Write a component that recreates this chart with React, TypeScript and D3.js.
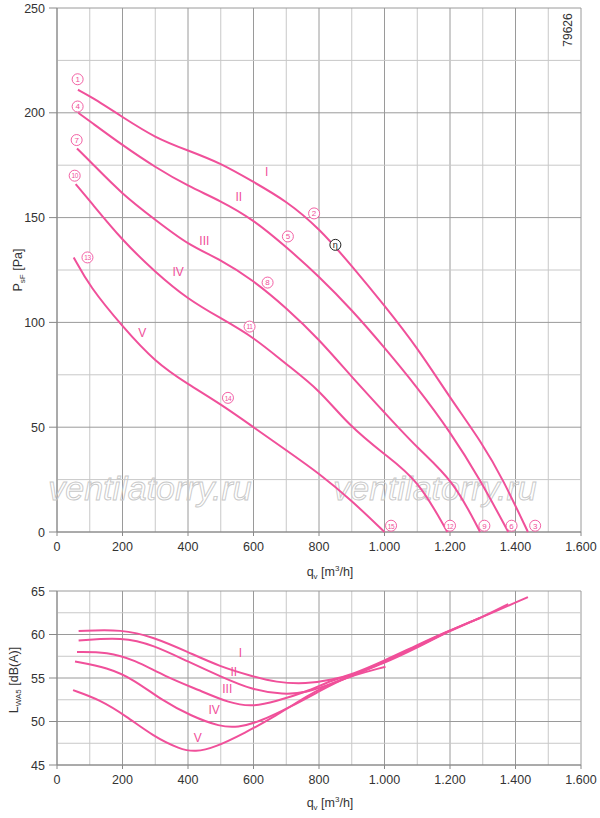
import React from "react";
import * as d3 from "d3";

const PINK = "#f0509a";
const pressureQ: number[][] = [
  [64, 100, 200, 300, 400, 500, 600, 700, 800, 900, 1000, 1100, 1200, 1300, 1362, 1438],
  [65, 100, 200, 300, 400, 500, 600, 700, 800, 900, 1000, 1100, 1200, 1292, 1378],
  [61, 100, 200, 300, 400, 500, 600, 700, 800, 900, 1000, 1100, 1209, 1292],
  [57, 100, 200, 300, 400, 500, 600, 700, 800, 890, 1000, 1102, 1192],
  [51, 100, 200, 300, 400, 500, 600, 700, 800, 900, 1000],
];
const pressureP: number[][] = [
  [211, 208, 198, 188, 182, 176, 167, 158, 145, 127, 108, 88, 64, 42, 25, 0],
  [200, 196, 184.5, 174, 165, 158, 149, 136, 122, 106, 88, 69, 48, 25, 0],
  [183, 177, 161, 149, 137, 130, 120, 107, 92, 74, 57, 40, 25, 0],
  [166, 158, 139, 124, 111, 102, 93, 80, 68, 51, 37, 25, 0],
  [131, 117, 98, 81, 70.5, 61, 50, 39, 28, 15, 0],
];
const soundQ: number[][] = [
  [66, 200, 294, 399, 498, 597, 667, 761, 842, 900, 1000, 1100, 1200, 1300, 1438],
  [66, 200, 294, 399, 498, 597, 691, 761, 842, 900, 1000, 1100, 1200, 1300, 1378],
  [61, 154, 236, 329, 434, 527, 597, 667, 761, 842, 900, 1000, 1100, 1200, 1292],
  [55, 154, 236, 317, 411, 498, 551, 621, 714, 807, 877, 1000, 1100, 1192],
  [49, 131, 212, 294, 376, 422, 481, 574, 667, 761, 854, 1003],
];
const soundL: number[][] = [
  [60.4, 60.6, 59.7, 58.0, 56.3, 55.2, 54.5, 54.3, 54.8, 55.4, 57.0, 58.8, 60.5, 62.0, 64.3],
  [59.3, 59.7, 58.8, 56.9, 55.2, 53.6, 53.1, 53.3, 54.4, 55.2, 56.9, 58.7, 60.5, 62.0, 63.5],
  [58.0, 58.0, 57.1, 55.2, 53.6, 52.1, 51.7, 52.3, 53.4, 54.8, 55.3, 56.8, 58.6, 60.4, 61.9],
  [56.9, 56.2, 54.8, 52.5, 50.6, 49.4, 49.3, 50.0, 51.7, 53.6, 55.0, 56.7, 58.5, 60.3],
  [53.6, 52.5, 50.6, 48.3, 46.8, 46.5, 47.0, 48.7, 50.6, 52.9, 54.8, 56.3],
];
const romans = ["I", "II", "III", "IV", "V"];
const topRomanPos: [number, number][] = [[640, 170], [555, 158], [450, 137], [370, 122], [260, 93]];
const bottomRomanPos: [number, number][] = [[560, 57.4], [540, 55.2], [520, 53.3], [480, 50.9], [430, 47.7]];
const markerNums = [1, 4, 7, 10, 13, 2, 5, 8, 11, 14, 3, 6, 9, 12, 15];
const markerQ = [63, 63, 60, 54, 93, 785, 705, 643, 588, 522, 1460, 1388, 1305, 1200, 1020];
const markerP = [216, 203, 187, 170, 131, 152, 141, 119, 98, 64, 3, 3, 3, 3, 3];
const xTicks = [0, 200, 400, 600, 800, 1000, 1200, 1400, 1600];
const xTickLabels = ["0", "200", "400", "600", "800", "1.000", "1.200", "1.400", "1.600"];
const topYTicks = [0, 50, 100, 150, 200, 250];
const botYTicks = [45, 50, 55, 60, 65];

const FONT = "Liberation Sans, Arial, sans-serif";

export default function App() {
  const x = d3.scaleLinear().domain([0, 1600]).range([57, 581]);
  const yT = d3.scaleLinear().domain([0, 250]).range([532, 8]);
  const yB = d3.scaleLinear().domain([45, 65]).range([765, 591]);
  const lineT = (qs: number[], ps: number[]) =>
    d3.line<number>().x((_, i) => x(qs[i])).y((p) => yT(p)).curve(d3.curveBasis)(ps) || "";
  const lineB = (qs: number[], ls: number[]) =>
    d3.line<number>().x((_, i) => x(qs[i])).y((l) => yB(l)).curve(d3.curveBasis)(ls) || "";

  const vGrid = d3.range(0, 1601, 100);
  const hGridT = d3.range(0, 251, 25);
  const hGridB = d3.range(45, 65.01, 2.5);

  return (
    <svg width={600} height={818} style={{ position: "absolute", left: 0, top: 0, background: "#fff" }} fontFamily={FONT}>
      {vGrid.map((v) => (
        <line key={"vt" + v} x1={x(v)} x2={x(v)} y1={yT(0)} y2={yT(250)} stroke={v % 200 === 0 ? "#9a9a9a" : "#c8c8c8"} strokeWidth={1} />
      ))}
      {hGridT.map((v) => (
        <line key={"ht" + v} x1={x(0)} x2={x(1600)} y1={yT(v)} y2={yT(v)} stroke={v % 50 === 0 ? "#9a9a9a" : "#c8c8c8"} strokeWidth={1} />
      ))}
      {topYTicks.map((v) => (
        <g key={"yt" + v}>
          <line x1={x(0) - 8} x2={x(0)} y1={yT(v)} y2={yT(v)} stroke="#888" />
          <text x={x(0) - 12} y={yT(v) + 4.5} textAnchor="end" fontSize={12.5} fill="#333">{v}</text>
        </g>
      ))}
      {xTicks.map((v, i) => (
        <g key={"xt" + v}>
          <line x1={x(v)} x2={x(v)} y1={yT(0)} y2={yT(0) + 4} stroke="#888" />
          <text x={x(v)} y={yT(0) + 19} textAnchor="middle" fontSize={12.5} fill="#333">{xTickLabels[i]}</text>
        </g>
      ))}
      <line x1={x(0)} x2={x(0)} y1={yT(0)} y2={yT(250)} stroke="#888" />
      <line x1={x(0)} x2={x(1600)} y1={yT(0)} y2={yT(0)} stroke="#888" />
      <text transform="translate(22,270) rotate(-90)" textAnchor="middle" fontSize={12.5} fill="#333">
        P<tspan fontSize={8} dy={3}>sF</tspan><tspan dy={-3}> [Pa]</tspan>
      </text>
      <text x={330} y={576} textAnchor="middle" fontSize={12.5} fill="#333">
        q<tspan fontSize={8} dy={3}>v</tspan><tspan dy={-3}> [m</tspan><tspan fontSize={8} dy={-5}>3</tspan><tspan dy={5}>/h]</tspan>
      </text>
      <text transform="translate(572,30) rotate(-90)" textAnchor="middle" fontSize={12} fill="#333">79626</text>
      {[150, 435].map((cx) => (
        <text key={"wm" + cx} x={cx} y={500} textAnchor="middle" fontSize={34} fontStyle="italic" fill="none" stroke="#c8c8c8" strokeWidth={0.9}>ventilatorry.ru</text>
      ))}
      {pressureQ.map((qs, i) => (
        <path key={"pc" + i} d={lineT(qs, pressureP[i])} fill="none" stroke={PINK} strokeWidth={2} />
      ))}
      {romans.map((r, i) => (
        <text key={"rt" + r} x={x(topRomanPos[i][0])} y={yT(topRomanPos[i][1])} textAnchor="middle" fontSize={12} fill={PINK}>{r}</text>
      ))}
      {markerNums.map((n, i) => (
        <g key={"mk" + n}>
          <circle cx={x(markerQ[i])} cy={yT(markerP[i])} r={5.5} fill="#fff" stroke={PINK} strokeWidth={0.9} />
          <text x={x(markerQ[i])} y={yT(markerP[i]) + 2.8} textAnchor="middle" fontSize={n >= 10 ? 6.5 : 8} fill={PINK} letterSpacing={n >= 10 ? -0.4 : 0}>{n}</text>
        </g>
      ))}
      <g>
        <circle cx={x(850)} cy={yT(137)} r={5.5} fill="#fff" stroke="#222" strokeWidth={1} />
        <text x={x(850)} y={yT(137) + 3} textAnchor="middle" fontSize={9} fill="#222">η</text>
      </g>

      {vGrid.map((v) => (
        <line key={"vb" + v} x1={x(v)} x2={x(v)} y1={yB(45)} y2={yB(65)} stroke={v % 200 === 0 ? "#9a9a9a" : "#c8c8c8"} />
      ))}
      {hGridB.map((v) => (
        <line key={"hb" + v} x1={x(0)} x2={x(1600)} y1={yB(v)} y2={yB(v)} stroke={v % 5 === 0 ? "#9a9a9a" : "#c8c8c8"} />
      ))}
      {botYTicks.map((v) => (
        <g key={"yb" + v}>
          <line x1={x(0) - 8} x2={x(0)} y1={yB(v)} y2={yB(v)} stroke="#888" />
          <text x={x(0) - 12} y={yB(v) + 4.5} textAnchor="end" fontSize={12.5} fill="#333">{v}</text>
        </g>
      ))}
      {xTicks.map((v, i) => (
        <g key={"xb" + v}>
          <line x1={x(v)} x2={x(v)} y1={yB(45)} y2={yB(45) + 4} stroke="#888" />
          <text x={x(v)} y={yB(45) + 19} textAnchor="middle" fontSize={12.5} fill="#333">{xTickLabels[i]}</text>
        </g>
      ))}
      <line x1={x(0)} x2={x(0)} y1={yB(45)} y2={yB(65)} stroke="#888" />
      <line x1={x(0)} x2={x(1600)} y1={yB(45)} y2={yB(45)} stroke="#888" />
      <text transform="translate(18,680) rotate(-90)" textAnchor="middle" fontSize={12.5} fill="#333">
        L<tspan fontSize={8} dy={3}>WA5</tspan><tspan dy={-3}> [dB(A)]</tspan>
      </text>
      <text x={330} y={807} textAnchor="middle" fontSize={12.5} fill="#333">
        q<tspan fontSize={8} dy={3}>v</tspan><tspan dy={-3}> [m</tspan><tspan fontSize={8} dy={-5}>3</tspan><tspan dy={5}>/h]</tspan>
      </text>
      {soundQ.map((qs, i) => (
        <path key={"sc" + i} d={lineB(qs, soundL[i])} fill="none" stroke={PINK} strokeWidth={2} />
      ))}
      {romans.map((r, i) => (
        <text key={"rb" + r} x={x(bottomRomanPos[i][0])} y={yB(bottomRomanPos[i][1])} textAnchor="middle" fontSize={12} fill={PINK}>{r}</text>
      ))}
    </svg>
  );
}
